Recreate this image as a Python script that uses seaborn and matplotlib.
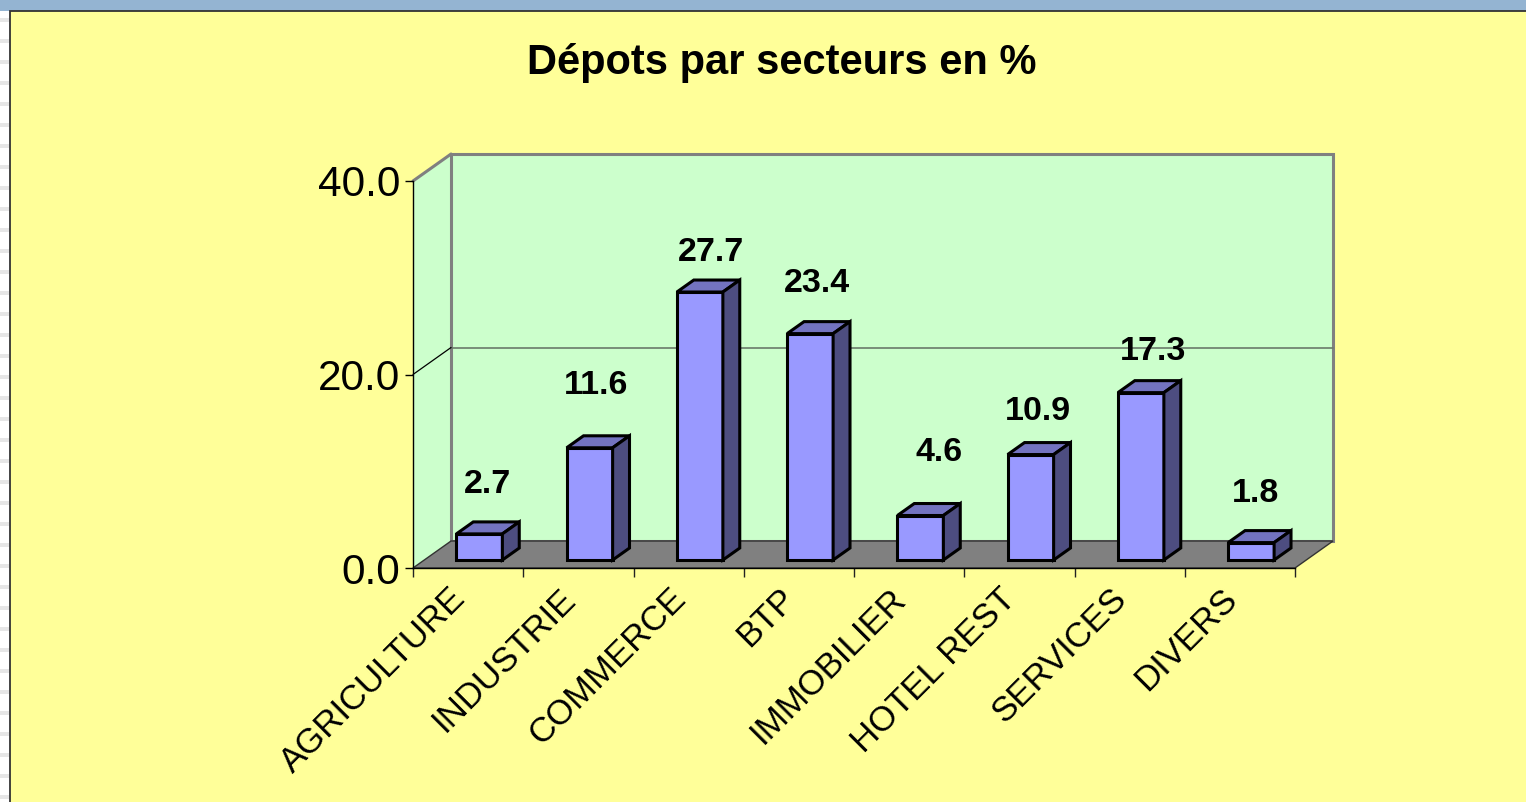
"""
Depots par secteurs - 3D style column chart (Excel look) with seaborn.
"""
import matplotlib
matplotlib.use("Agg")
import matplotlib.pyplot as plt
from matplotlib.patches import Rectangle, Polygon
from matplotlib.transforms import ScaledTranslation
import seaborn as sns
import numpy as np
import pandas as pd

# data
sectors = ["AGRICULTURE", "INDUSTRIE", "COMMERCE", "BTP", "IMMOBILIER",
           "HOTEL REST", "SERVICES", "DIVERS"]
depots = [2.7, 11.6, 27.7, 23.4, 4.6, 10.9, 17.3, 1.8]
y_ticks = [0, 20, 40]
title = "Dépots par secteurs en %"

# layout (value labels were placed by hand in the original, so per-bar nudges)
label_dx = [0.18, 0.16, 0.20, 0.16, 0.27, 0.17, 0.21, 0.14]
label_gap = [5.1, 6.4, 4.1, 5.2, 6.5, 4.5, 4.2, 5.1]

DX, DY = 0.345, 2.79        # depth of the walls in data units
FRONT, DEPTH = 0.296, 0.444  # bar position / thickness as fraction of depth
BAR_W = 0.417

WALL = "#CCFFCC"
FLOOR = "#808080"
FACE, TOP, SIDE = "#9999FF", "#7373C0", "#4D4D80"

sns.set_theme(style="white")
plt.rcParams["font.family"] = ["Liberation Sans", "DejaVu Sans"]
plt.rcParams["text.color"] = "black"
plt.rcParams["xtick.color"] = "black"
plt.rcParams["ytick.color"] = "black"

fig = plt.figure(figsize=(15.26, 8.02), dpi=100)
fig.patch.set_facecolor("white")

# window chrome: stripes on the left, blue band on top, yellow chart area
for k in range(40):
    y = 1 - (22 + 21 * k) / 802
    fig.add_artist(Rectangle((0, y), 9 / 1526, 4 / 802, transform=fig.transFigure,
                             facecolor="#E6E6E6", edgecolor="none", zorder=0))
fig.add_artist(Rectangle((0, 1 - 11 / 802), 1, 11 / 802, transform=fig.transFigure,
                         facecolor="#94B4D2", edgecolor="none", zorder=0))
fig.add_artist(Rectangle((9.5 / 1526, -0.01), 1, 1 - 11 / 802 + 0.01,
                         transform=fig.transFigure, facecolor="#FFFF99",
                         edgecolor="#333333", linewidth=1.3, zorder=0))

fig.text(0.512, 1 - 63 / 802, title, ha="center", va="center",
         fontsize=30, fontweight="bold", color="black")

ax = fig.add_axes([413 / 1526, 234 / 802, 882 / 1526, 387 / 802])
ax.patch.set_visible(False)

df = pd.DataFrame({"secteur": sectors, "depot": depots})
sns.barplot(data=df, x="secteur", y="depot", width=BAR_W, color=FACE,
            saturation=1, edgecolor="black", linewidth=2.2, ax=ax)

x0, x1 = -0.5, len(sectors) - 0.5
ax.set_xlim(x0, x1)
ax.set_ylim(0, 40)

# walls and floor
ax.add_patch(Polygon([(x0, 0), (x0 + DX, DY), (x0 + DX, 40 + DY), (x0, 40)],
                     facecolor=WALL, edgecolor="none", zorder=0.2, clip_on=False))
ax.add_patch(Rectangle((x0 + DX, DY), x1 - x0, 40, facecolor=WALL,
                       edgecolor="#808080", linewidth=2.2, zorder=0.2, clip_on=False))
ax.plot([x0, x0 + DX], [40, 40 + DY], color="#808080", lw=2.2,
        zorder=0.3, clip_on=False, solid_capstyle="round")
ax.add_patch(Polygon([(x0, 0), (x1, 0), (x1 + DX, DY), (x0 + DX, DY)],
                     facecolor=FLOOR, edgecolor="#333333", linewidth=1,
                     zorder=0.4, clip_on=False))

# gridline at 20 on back and side wall
for t in y_ticks[1:-1]:
    ax.plot([x0 + DX, x1 + DX], [t + DY, t + DY], color="#6A7A6A", lw=1.2,
            zorder=0.5, clip_on=False)
    ax.plot([x0, x0 + DX], [t, t + DY], color="black", lw=0.9,
            zorder=0.5, clip_on=False)

# turn the flat bars into boxes
bdx, bdy = DEPTH * DX, DEPTH * DY
for i, p in enumerate(ax.containers[0]):
    p.set_x(p.get_x() + FRONT * DX)
    p.set_y(FRONT * DY)
    p.set_zorder(3 + i)
    p.set_joinstyle("miter")
    left, right = p.get_x(), p.get_x() + p.get_width()
    bot, top = p.get_y(), p.get_y() + p.get_height()
    ax.add_patch(Polygon([(left, top), (right, top), (right + bdx, top + bdy),
                          (left + bdx, top + bdy)], facecolor=TOP,
                         edgecolor="black", linewidth=2.2, zorder=3 + i,
                         joinstyle="miter"))
    ax.add_patch(Polygon([(right, bot), (right + bdx, bot + bdy),
                          (right + bdx, top + bdy), (right, top)], facecolor=SIDE,
                         edgecolor="black", linewidth=2.2, zorder=3 + i,
                         joinstyle="miter"))
    ax.text(i + label_dx[i], depots[i] + FRONT * DY + label_gap[i],
            f"{depots[i]:.1f}", ha="center", va="center", fontsize=24.5,
            fontweight="bold", color="black", zorder=20)

# axes styling
for s in ["top", "right"]:
    ax.spines[s].set_visible(False)
ax.spines["left"].set_color("black")
ax.spines["left"].set_linewidth(1.0)
ax.spines["bottom"].set_color("black")
ax.spines["bottom"].set_linewidth(1.0)

ax.set_yticks(y_ticks)
ax.set_yticklabels([f"{t:.1f}" for t in y_ticks])
ax.tick_params(axis="y", left=True, length=6, width=1, color="black",
               labelsize=30.5, pad=3)

ax.set_xticks(np.arange(len(sectors)))
ax.set_xticks(np.arange(len(sectors) + 1) - 0.5, minor=True)
ax.set_xticklabels(sectors, rotation=45, ha="right", rotation_mode="anchor")
ax.tick_params(axis="x", which="major", length=0, labelsize=25, pad=10)
ax.tick_params(axis="x", which="minor", bottom=True, length=6.5, width=1,
               color="#222222")
shift = ScaledTranslation(-0.20, 0, fig.dpi_scale_trans)
for lab in ax.get_xticklabels():
    lab.set_transform(lab.get_transform() + shift)
ax.set_xlabel("")
ax.set_ylabel("")

plt.savefig("out.png", dpi=100, facecolor=fig.get_facecolor())
